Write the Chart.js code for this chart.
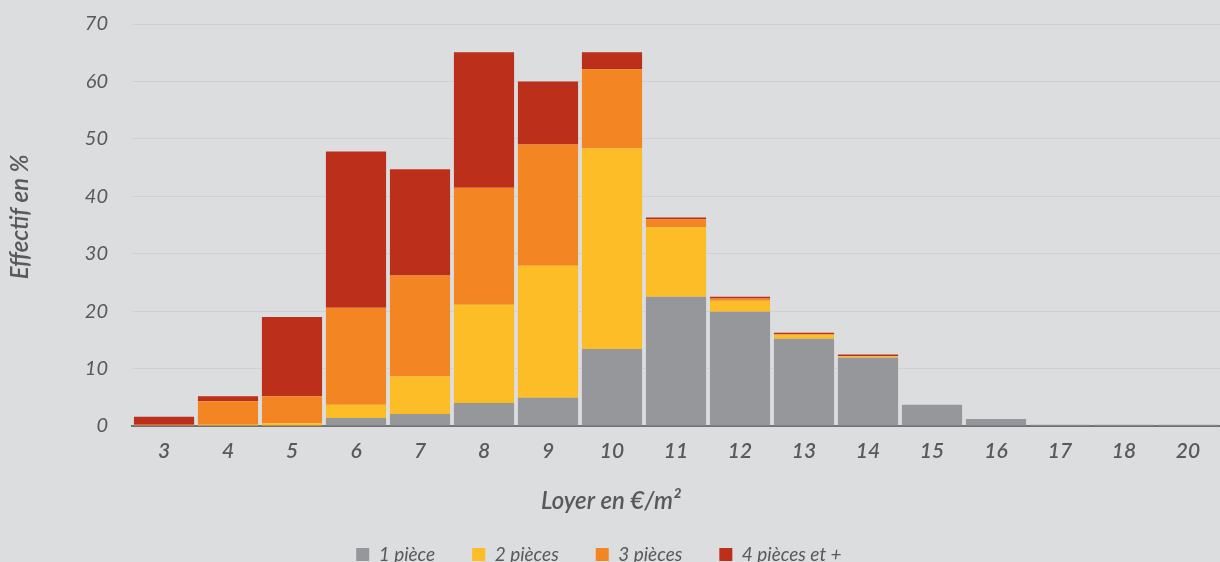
<!DOCTYPE html>
<html lang="fr">
<head>
  <meta charset="UTF-8">
  <title>Effectif par loyer</title>
  <style>
    html, body { margin: 0; padding: 0; background: #dcdddf; overflow: hidden; }
    .chart-container { width: 1220px; height: 574px; }
  </style>
</head>
<body>
  <div class="chart-container">
    <canvas id="loyerChart"></canvas>
  </div>

  <script src="https://cdn.jsdelivr.net/npm/chart.js"></script>
  <script>
    // Loyer en €/m² (pas de 19)
    const categories = ['3', '4', '5', '6', '7', '8', '9', '10', '11', '12', '13', '14', '15', '16', '17', '18', '20'];

    // Effectif en %, par nombre de pièces
    const unePiece    = [0,   0,   0,    1.4,  2.1,  4.0,  4.9,  13.4, 22.5, 19.9, 15.2, 11.9, 3.7, 1.2, 0.2, 0.2, 0.2];
    const deuxPieces  = [0,   0.2, 0.5,  2.3,  6.5,  17.1, 23.0, 34.9, 12.1, 1.9,  0.7,  0.2,  0,   0,   0,   0,   0];
    const troisPieces = [0.2, 4.1, 4.7,  16.9, 17.6, 20.4, 21.1, 13.8, 1.4,  0.4,  0.1,  0.1,  0,   0,   0,   0,   0];
    const quatrePlus  = [1.4, 0.9, 13.8, 27.2, 18.5, 23.6, 11.0, 3.0,  0.3,  0.3,  0.25, 0.25, 0,   0,   0,   0,   0];

    const yTicks = [0, 10, 20, 30, 40, 50, 60, 70];

    const textColor = '#58595b';
    const fontFamily = 'Lato, "Open Sans", sans-serif';

    function serie(label, data, color) {
      return {
        label: label,
        data: data,
        backgroundColor: color,
        borderWidth: 0,
        barPercentage: 0.94,
        categoryPercentage: 1.0
      };
    }

    // titles are off-centre in the original, padding spaces push them there
    const xTitle = 'Loyer en €/m²' + ' '.repeat(24);
    const yTitle = ' '.repeat(3) + 'Effectif en %';

    const ctx = document.getElementById('loyerChart').getContext('2d');
    new Chart(ctx, {
      type: 'bar',
      data: {
        labels: categories,
        datasets: [
          serie('1 pièce', unePiece, '#96979b'),
          serie('2 pièces', deuxPieces, '#fdbd27'),
          serie('3 pièces', troisPieces, '#f38622'),
          serie('4 pièces et +     ', quatrePlus, '#bc2f1a')
        ]
      },
      options: {
        responsive: true,
        maintainAspectRatio: false,
        animation: false,
        layout: {
          padding: { top: 0, right: 0, bottom: 0, left: 0 }
        },
        plugins: {
          tooltip: { enabled: false },
          legend: {
            position: 'bottom',
            labels: {
              color: textColor,
              boxWidth: 13,
              boxHeight: 13,
              padding: 37,
              font: { family: fontFamily, size: 19, style: 'italic' }
            }
          }
        },
        scales: {
          x: {
            stacked: true,
            grid: { display: false, drawTicks: false },
            border: { display: true, color: '#707173', width: 2 },
            ticks: {
              color: textColor,
              padding: 13,
              font: { family: fontFamily, size: 21, style: 'italic', weight: '600' }
            },
            title: {
              display: true,
              text: xTitle,
              color: textColor,
              padding: { top: 10, bottom: -8 },
              font: { family: fontFamily, size: 24, style: 'italic', weight: '600' }
            }
          },
          y: {
            stacked: true,
            min: 0,
            max: 70,
            afterBuildTicks: function (axis) {
              axis.ticks = yTicks.map(v => ({ value: v }));
            },
            grid: { color: '#cfd0d2', lineWidth: 1, drawTicks: true, tickLength: 12, tickColor: 'rgba(0,0,0,0)' },
            border: { display: false },
            ticks: {
              color: textColor,
              padding: 12,
              font: { family: fontFamily, size: 20, style: 'italic' }
            },
            title: {
              display: true,
              text: yTitle,
              color: textColor,
              padding: { top: 6, bottom: 38 },
              font: { family: fontFamily, size: 24, style: 'italic', weight: '600' }
            }
          }
        }
      }
    });
  </script>
</body>
</html>
